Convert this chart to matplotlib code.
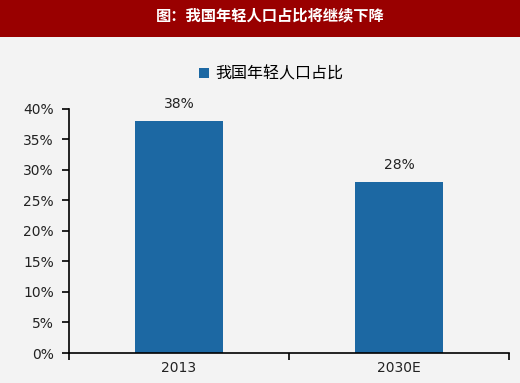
import numpy as np
import matplotlib.pyplot as plt
from matplotlib.patches import Rectangle

plt.rcParams['font.family'] = ['Noto Sans CJK SC', 'DejaVu Sans']

categories = ['2013', '2030E']
values = [38, 28]
series_name = '我国年轻人口占比'
title = '图：我国年轻人口占比将继续下降'
yticks = [0, 5, 10, 15, 20, 25, 30, 35, 40]

bg = '#f3f3f3'
bar_color = '#1c68a3'
num_font = ['DejaVu Sans']

fig = plt.figure(figsize=(5.2, 3.83), dpi=100, facecolor=bg)

# title band
fig.patches.append(Rectangle((0, 0.903), 1, 0.097, transform=fig.transFigure,
                             facecolor='#990000', edgecolor='none', zorder=0))
fig.text(0.52, 0.96, title, color='white', fontsize=11, fontweight='bold',
         ha='center', va='center')

ax = fig.add_axes([0.1327, 0.0783, 0.846, 0.638])
ax.set_facecolor(bg)
x = np.arange(len(categories))
bars = ax.bar(x, values, width=0.4, color=bar_color, label=series_name)
for xi, v in zip(x, values):
    ax.text(xi, v + 1.6, f'{v}%', ha='center', va='bottom', fontsize=10,
            color='#222222', family=num_font)

ax.set_xlim(-0.5, len(categories) - 0.5)
ax.set_ylim(0, 40)
ax.set_yticks(yticks)
ax.set_yticklabels([f'{t}%' for t in yticks], fontsize=10, color='#222222',
                   family=num_font)
ax.set_xticks([-0.5, 0.5, 1.5])
ax.set_xticklabels([])
ax.set_xticks(x, minor=True)
ax.set_xticklabels(categories, minor=True, fontsize=10, color='#222222',
                   family=num_font)
ax.tick_params(axis='x', which='minor', length=0, pad=6)
ax.tick_params(axis='x', which='major', length=5, width=1.2, direction='out')
ax.tick_params(axis='y', length=5, width=1.2, direction='out', pad=6)
for s in ['top', 'right']:
    ax.spines[s].set_visible(False)
for s in ['left', 'bottom']:
    ax.spines[s].set_linewidth(1.2)

leg = ax.legend(loc='center', bbox_to_anchor=(0.46, 1.143), frameon=False,
                fontsize=11.5, handlelength=0.6, handleheight=0.6, handletextpad=0.4)

fig.savefig('out.png', dpi=100, facecolor=bg)
